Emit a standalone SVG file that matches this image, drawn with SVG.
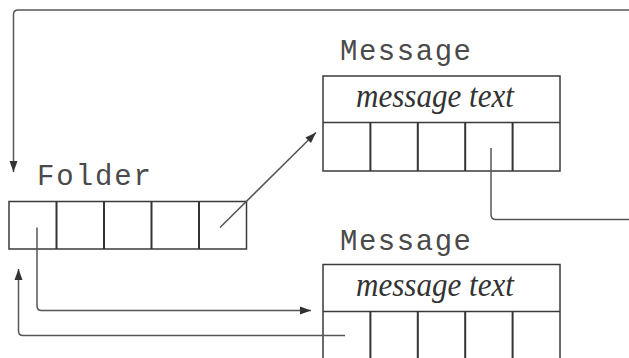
<svg xmlns="http://www.w3.org/2000/svg" width="629" height="358" viewBox="0 0 629 358">
<defs>
<style>
.box{fill:none;stroke:#3a3a3a;stroke-width:1.5}
.div{stroke:#333;stroke-width:2}
.lbl{font-family:"Liberation Mono","Courier New",monospace;font-size:29px;fill:#4a4a4a}
.txt{font-family:"Liberation Serif","Times New Roman",serif;font-style:italic;font-size:33px;fill:#333}
.con{fill:none;stroke:#555;stroke-width:1.5}
</style>
<marker id="ah" markerUnits="userSpaceOnUse" markerWidth="12" markerHeight="10" viewBox="0 0 12 10" refX="11" refY="5" orient="auto">
<path d="M0,1 L11,5 L0,9 Z" fill="#333"/>
</marker>
</defs>
<rect width="629" height="358" fill="#fff"/>
<g id="folder">
<text class="lbl" x="37" y="185" textLength="114" lengthAdjust="spacing">Folder</text>
<rect class="box" x="9" y="201.5" width="237.5" height="47.5"/>
<line class="div" x1="56.5" y1="201.5" x2="56.5" y2="249"/>
<line class="div" x1="104" y1="201.5" x2="104" y2="249"/>
<line class="div" x1="151.5" y1="201.5" x2="151.5" y2="249"/>
<line class="div" x1="199" y1="201.5" x2="199" y2="249"/>
</g>
<g id="message1">
<text class="lbl" x="340" y="59.5" textLength="131" lengthAdjust="spacing">Message</text>
<rect class="box" x="323" y="76" width="237" height="95"/>
<line class="box" x1="323" y1="122.5" x2="560" y2="122.5"/>
<text class="txt" x="356" y="106.5" textLength="158" lengthAdjust="spacingAndGlyphs">message text</text>
<line class="div" x1="370.4" y1="122.5" x2="370.4" y2="171"/>
<line class="div" x1="417.8" y1="122.5" x2="417.8" y2="171"/>
<line class="div" x1="465.2" y1="122.5" x2="465.2" y2="171"/>
<line class="div" x1="512.6" y1="122.5" x2="512.6" y2="171"/>
</g>
<g id="message2">
<text class="lbl" x="340" y="250" textLength="131" lengthAdjust="spacing">Message</text>
<rect class="box" x="323" y="264.5" width="237" height="110"/>
<line class="box" x1="323" y1="311.5" x2="560" y2="311.5"/>
<text class="txt" x="356" y="296" textLength="158" lengthAdjust="spacingAndGlyphs">message text</text>
<line class="div" x1="370.4" y1="311.5" x2="370.4" y2="358"/>
<line class="div" x1="417.8" y1="311.5" x2="417.8" y2="358"/>
<line class="div" x1="465.2" y1="311.5" x2="465.2" y2="358"/>
<line class="div" x1="512.6" y1="311.5" x2="512.6" y2="358"/>
</g>
<g id="connectors">
<path class="con" d="M629,10 H18 Q13.5,10 13.5,14.5 V172" marker-end="url(#ah)"/>
<line class="con" x1="220" y1="227.5" x2="316" y2="132.5" marker-end="url(#ah)"/>
<path class="con" d="M491,148 V214.5 Q491,219.5 496,219.5 H629"/>
<path class="con" d="M37,227.5 V306 Q37,310.5 41.5,310.5 H311" marker-end="url(#ah)"/>
<path class="con" d="M345,335.5 H23 Q18.5,335.5 18.5,331 V269" marker-end="url(#ah)"/>
</g>
</svg>
